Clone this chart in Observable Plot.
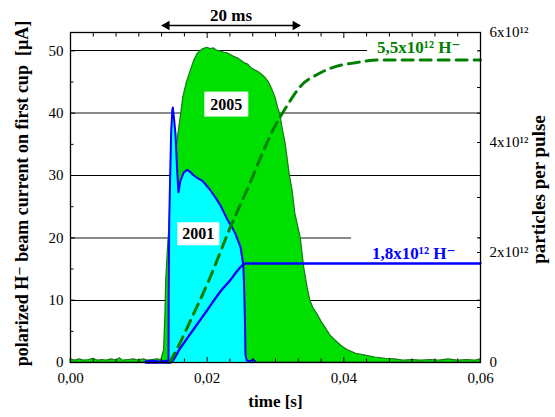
<!DOCTYPE html>
<html>
<head>
<meta charset="utf-8">
<script src="https://cdn.jsdelivr.net/npm/d3@7"></script>
<script src="https://cdn.jsdelivr.net/npm/@observablehq/plot@0.6"></script>
<style>
  html, body { margin: 0; padding: 0; background: #fff; }
  #chart { width: 555px; height: 417px; }
  #chart svg { font-size: 15px !important; background: #fff; }
  #chart svg, #chart svg text { font-family: "Liberation Serif", "Times New Roman", "DejaVu Serif", serif !important; }
</style>
</head>
<body>
<div id="chart"></div>
<script>
// Beam current on the first cup, [time (s), current (µA)]
const pulse2005 = [
  [0, 0.5], [0.0007, 0.3], [0.0013, 0.5], [0.002, 0.3], [0.0027, 0.4], [0.0033, 0.6],
  [0.004, 0.3], [0.0047, 0.4], [0.0053, 0.3], [0.006, 0.5], [0.0067, 0.3], [0.0072, 0.7],
  [0.0077, 0.3], [0.0085, 0.4], [0.0092, 0.5], [0.01, 0.3], [0.0107, 0.5], [0.0113, 0.3],
  [0.012, 0.4], [0.0127, 0.5], [0.0133, 0.4], [0.0137, 2], [0.0139, 8], [0.014, 13],
  [0.0143, 19], [0.0147, 25], [0.0151, 30], [0.0155, 34], [0.0158, 36.7], [0.0162, 39.9],
  [0.0165, 42.5], [0.017, 44.8], [0.0176, 46.8], [0.0181, 48.4], [0.0186, 49.5], [0.0193, 50.2],
  [0.02, 50.5], [0.0205, 50.3], [0.021, 50.4], [0.0215, 50.0], [0.022, 49.9], [0.0225, 49.7],
  [0.023, 49.6], [0.0235, 49.3], [0.024, 49.0], [0.0245, 48.8], [0.025, 48.4], [0.0255, 48.0],
  [0.026, 47.8], [0.0265, 47.2], [0.027, 46.9], [0.0275, 46.6], [0.028, 46.2], [0.0285, 45.7],
  [0.029, 45.0], [0.0295, 43.9], [0.03, 42.5], [0.0304, 40.8], [0.0307, 39.8], [0.0311, 37.2],
  [0.0315, 35.0], [0.0321, 30.0], [0.0325, 27.6], [0.0329, 23.9], [0.0337, 19.9], [0.0342, 15.2],
  [0.0347, 12.0], [0.0351, 9.9], [0.0356, 8.6], [0.0361, 7.8], [0.0367, 6.6], [0.0373, 5.6],
  [0.038, 4.4], [0.0388, 3.5], [0.0397, 2.6], [0.0407, 1.9], [0.0418, 1.4], [0.0432, 1.1],
  [0.0446, 0.8], [0.0461, 0.6], [0.0475, 0.5], [0.0487, 0.3], [0.05, 0.4], [0.0513, 0.3],
  [0.0527, 0.4], [0.054, 0.3], [0.0553, 0.5], [0.0567, 0.3], [0.058, 0.4], [0.0593, 0.3],
  [0.06, 0.5]
];

const pulse2001 = [
  [0.011, 0.2], [0.012, 0.3], [0.013, 0.15], [0.014, 0.3], [0.01434, 0.3], [0.01437, 10],
  [0.01445, 23], [0.01465, 33], [0.01474, 37.2], [0.0149, 40.5], [0.01497, 40.9], [0.01512, 39.5],
  [0.01537, 36.6], [0.0156, 31], [0.0158, 27.3], [0.0161, 29.2], [0.01658, 30.5], [0.01708, 30.9],
  [0.0175, 30.6], [0.01804, 30.0], [0.0186, 29.6], [0.01927, 29.2], [0.0199, 28.4], [0.02049, 27.6],
  [0.0212, 26.5], [0.02195, 25.2], [0.02293, 23.0], [0.0236, 21.8], [0.02415, 20.6], [0.02488, 18.5],
  [0.02527, 15.8], [0.02539, 13.0], [0.02554, 6], [0.02561, 1.2], [0.0258, 0.3], [0.0263, 0.2],
  [0.0267, 0.5], [0.027, 0.2]
];

// Integrated particles per pulse, [time (s), count (10^12)]
const count2001 = [
  [0.011, 0], [0.0146, 0], [0.016, 0.25], [0.018, 0.6], [0.02, 0.95], [0.022, 1.3],
  [0.0234, 1.5], [0.0243, 1.65], [0.025, 1.75], [0.0256, 1.8], [0.06, 1.8]
];
const count2005 = [
  [0.0145, 0], [0.0158, 0.3], [0.018, 0.88], [0.0202, 1.48], [0.0234, 2.46], [0.0264, 3.3],
  [0.028, 3.78], [0.0296, 4.22], [0.0316, 4.65], [0.0335, 5.0], [0.0363, 5.25], [0.0388, 5.38],
  [0.0417, 5.45], [0.045, 5.5], [0.06, 5.5]
];

const years = ["2005", "2001"];
const pulseWindow = [0.0135, 0.0335];   // 20 ms window

const xTicks = [0, 0.02, 0.04, 0.06];
const xMinorTicks = [0.00333, 0.00667, 0.01, 0.01333, 0.01667, 0.02333, 0.02667, 0.03,
                     0.03333, 0.03667, 0.04333, 0.04667, 0.05, 0.05333, 0.05667];
const yTicks = [0, 10, 20, 30, 40, 50];
const yMinorTicks = [5, 15, 25, 35, 45];
const gridLevels = [10, 20, 30, 40, 50];
const countTicks = [0, 2, 4, 6];        // ×10^12
const countMinorTicks = [1, 3, 5];

// Axis geometry: the current axis runs to yTop, the count axis to 6×10^12 at the same height
const yTop = 52.95;
const k = yTop / 6;

const comma = v => String(v).replace(".", ",");
const total2001 = count2001[count2001.length - 1][1];
const total2005 = count2005[count2005.length - 1][1];
const totalLabel = v => `${comma(v)}x10¹² H⁻`;

const T = d => d[0];
const V = d => d[1];
const C = d => d[1] * k;

const svg = Plot.plot({
  width: 555,
  height: 417,
  marginLeft: 70,
  marginRight: 75,
  marginTop: 32,
  marginBottom: 55,
  x: {domain: [0, 0.06]},
  y: {domain: [0, yTop]},
  marks: [
    Plot.ruleY(gridLevels, {
      stroke: d => d % 20 === 0 ? "#8a8a8a" : "#000",
      strokeWidth: d => d % 20 === 0 ? 1.6 : 1,
      shapeRendering: "crispEdges"
    }),

    Plot.areaY(pulse2005, {x: T, y: V, fill: "#00e000", stroke: "#157a15", strokeWidth: 1.2}),
    Plot.areaY(pulse2001, {x: T, y: V, fill: "#00ffff"}),
    Plot.line(pulse2001, {x: T, y: V, stroke: "#0000ff", strokeWidth: 2}),

    Plot.line(count2001, {x: T, y: C, stroke: "#0000ff", strokeWidth: 2.3, curve: "monotone-x"}),
    Plot.line(count2005, {x: T, y: C, stroke: "#008000", strokeWidth: 3, strokeDasharray: "11,7", curve: "monotone-x"}),

    // 20 ms double arrow above the frame
    Plot.link([pulseWindow], {x1: d => d[0], x2: d => d[1], y1: () => yTop, y2: () => yTop, dy: -7, stroke: "#000", strokeWidth: 1.3}),
    Plot.dot([pulseWindow[0]], {x: d => d, y: () => yTop, dy: -7, dx: 4, symbol: "triangle", rotate: -90, r: 3.6, fill: "#000", stroke: null}),
    Plot.dot([pulseWindow[1]], {x: d => d, y: () => yTop, dy: -7, dx: -4, symbol: "triangle", rotate: 90, r: 3.6, fill: "#000", stroke: null}),
    Plot.text([pulseWindow], {x: d => (d[0] + d[1]) / 2, y: () => yTop, dy: -17,
      text: d => `${Math.round((d[1] - d[0]) * 1000)} ms`, fontWeight: "bold", fontSize: 17}),

    Plot.text(years, {x: [0.0228, 0.0187], y: [41.4, 20.6], text: d => d, fontWeight: "bold", fontSize: 16}),

    Plot.text([total2005], {frameAnchor: "right", y: v => v * k, text: totalLabel, textAnchor: "end",
      dx: -20, dy: -12, fill: "#008000", fontWeight: "bold", fontSize: 17}),
    Plot.text([total2001], {frameAnchor: "right", y: v => v * k, text: totalLabel, textAnchor: "end",
      dx: -25, dy: -10, fill: "#0000ff", fontWeight: "bold", fontSize: 17}),

    // axis titles
    Plot.text(["time [s]"], {frameAnchor: "bottom", dy: 44, fontWeight: "bold", fontSize: 17}),
    Plot.text(["polarized H⁻ beam current on first cup  [µA]"], {frameAnchor: "left", textAnchor: "middle",
      rotate: -90, dx: -48, dy: -4, fontWeight: "bold", fontSize: 18}),
    Plot.text(["particles per pulse"], {frameAnchor: "right", textAnchor: "middle",
      rotate: -90, dx: 58, dy: -8, fontWeight: "bold", fontSize: 19}),

    // tick labels
    Plot.axisX({ticks: xTicks, tickSize: 0, tickPadding: 10, fontSize: 15, tickFormat: d => d.toFixed(2).replace(".", ","), label: null}),
    Plot.axisY({anchor: "left", ticks: yTicks, tickSize: 0, tickPadding: 7, fontSize: 15, tickFormat: d => String(d), label: null}),
    Plot.axisY({anchor: "right", ticks: countTicks.map(v => v * k), tickSize: 0, tickPadding: 9, fontSize: 15,
      tickFormat: d => { const v = Math.round(d / k); return v === 0 ? "0" : `${v}x10¹²`; }, label: null}),

    // inward ticks on all four sides
    Plot.axisX({anchor: "bottom", ticks: xTicks, tickSize: 5, dy: -5, tickFormat: () => "", label: null}),
    Plot.axisX({anchor: "bottom", ticks: xMinorTicks, tickSize: 3.5, dy: -3.5, tickFormat: () => "", label: null}),
    Plot.axisX({anchor: "top", ticks: xTicks, tickSize: 5, dy: 5, tickFormat: () => "", label: null}),
    Plot.axisX({anchor: "top", ticks: xMinorTicks, tickSize: 3.5, dy: 3.5, tickFormat: () => "", label: null}),
    Plot.axisY({anchor: "left", ticks: yTicks, tickSize: 5, dx: 5, tickFormat: () => "", label: null}),
    Plot.axisY({anchor: "left", ticks: yMinorTicks, tickSize: 3.5, dx: 3.5, tickFormat: () => "", label: null}),
    Plot.axisY({anchor: "right", ticks: gridLevels, tickSize: 4, dx: -4, tickFormat: () => "", label: null}),
    Plot.axisY({anchor: "right", ticks: countTicks.map(v => v * k), tickSize: 4, dx: -4, tickFormat: () => "", label: null}),
    Plot.axisY({anchor: "right", ticks: countMinorTicks.map(v => v * k), tickSize: 4, dx: -4, tickFormat: () => "", label: null}),

    Plot.frame({stroke: "#000", strokeWidth: 1.3})
  ]
});

document.getElementById("chart").append(svg);

// White boxes behind the annotation labels
const ns = "http://www.w3.org/2000/svg";
const svgBox = svg.getBoundingClientRect();
function boxBehind(label, pad, before) {
  const t = Array.from(svg.querySelectorAll("text")).find(e => e.textContent === label);
  if (!t) return;
  const b = t.getBoundingClientRect();
  const r = document.createElementNS(ns, "rect");
  r.setAttribute("x", b.left - svgBox.left - pad[3]);
  r.setAttribute("y", b.top - svgBox.top - pad[0]);
  r.setAttribute("width", b.width + pad[1] + pad[3]);
  r.setAttribute("height", b.height + pad[0] + pad[2]);
  r.setAttribute("fill", "#fff");
  const anchor = before === "text" ? t.parentNode : svg.querySelector('g[aria-label="area"]');
  anchor.parentNode.insertBefore(r, anchor);
}
boxBehind("2005", [4, 6, 4, 6], "text");
boxBehind("2001", [3, 5, 3, 5], "text");
boxBehind(totalLabel(total2005), [6, 18, 0, 10], "area");
boxBehind(totalLabel(total2001), [8, 23, 0, 21], "area");
</script>
</body>
</html>
